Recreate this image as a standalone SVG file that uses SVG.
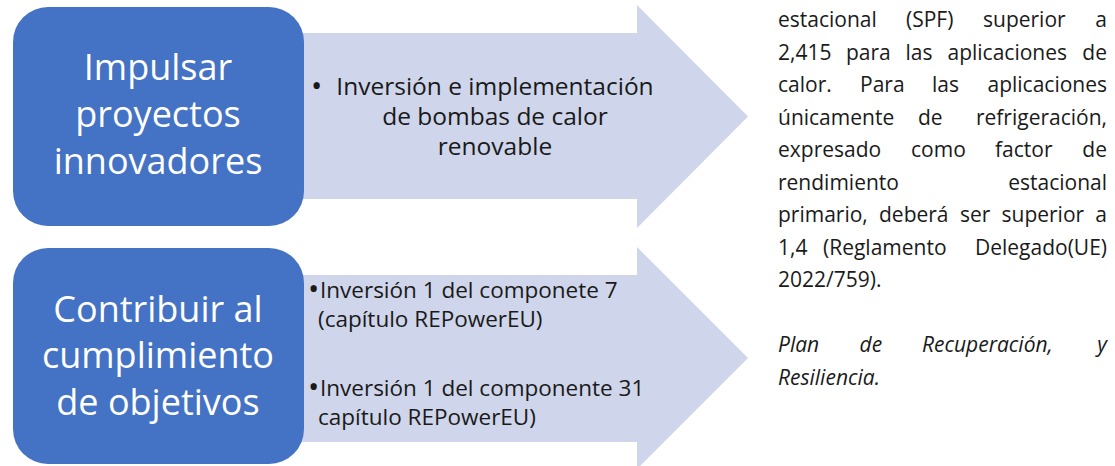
<svg xmlns="http://www.w3.org/2000/svg" width="1115" height="466" viewBox="0 0 1115 466">
<style>
.box{fill:#4472C4}
.arrow{fill:#CFD5EA}
.bt{font-family:"Open Sans","Noto Sans",sans-serif;font-size:36px;fill:#FFFFFF;text-anchor:middle}
.at{font-family:"Open Sans","Noto Sans",sans-serif;font-size:24.5px;fill:#1A1A1A}
.at2{font-family:"Open Sans","Noto Sans",sans-serif;font-size:22.5px;fill:#1A1A1A}
.bul{font-family:"Open Sans","Noto Sans",sans-serif;font-size:30px;fill:#1A1A1A}
.rt{font-family:"Open Sans","Noto Sans",sans-serif;font-size:21px;fill:#1A1A1A}
.e{text-anchor:end}
.i{font-style:italic}
</style>
<rect width="1115" height="466" fill="#FFFFFF"/>
<g id="arrow-1">
<polygon class="arrow" points="150,33 637,33 637,5 748,116.5 637,228 637,199 150,199"/>
<text class="bul" x="311" y="96">•</text>
<text class="at" x="495" y="95" text-anchor="middle">Inversión e implementación</text>
<text class="at" x="495" y="125" text-anchor="middle">de bombas de calor</text>
<text class="at" x="495" y="155" text-anchor="middle">renovable</text>
</g>
<g id="arrow-2">
<polygon class="arrow" points="150,275 637,275 637,247 748,358 637,469 637,442 150,442"/>
<text class="bul" x="308" y="299">•</text>
<text class="at2" x="320" y="298">Inversión 1 del componete 7</text>
<text class="at2" x="318" y="326.5">(capítulo REPowerEU)</text>
<text class="bul" x="308" y="397">•</text>
<text class="at2" x="320" y="396">Inversión 1 del componente 31</text>
<text class="at2" x="318" y="424.5">capítulo REPowerEU)</text>
</g>
<g id="connectors"></g>
<g id="node-impulsar">
<rect class="box" x="13" y="7" width="291" height="219" rx="35" ry="35"/>
<text class="bt" x="158" y="80">Impulsar</text>
<text class="bt" x="158" y="127">proyectos</text>
<text class="bt" x="158" y="174">innovadores</text>
</g>
<g id="node-contribuir">
<rect class="box" x="13" y="248" width="291" height="216" rx="35" ry="35"/>
<text class="bt" x="158" y="322">Contribuir al</text>
<text class="bt" x="158" y="368">cumplimiento</text>
<text class="bt" x="158" y="415">de objetivos</text>
</g>
<g id="node-texto">
<text class="rt" x="778" y="27">estacional</text>
<text class="rt" x="906" y="27">(SPF)</text>
<text class="rt" x="983" y="27">superior</text>
<text class="rt e" x="1107" y="27">a</text>
<text class="rt" x="778" y="59.5">2,415</text>
<text class="rt" x="846" y="59.5">para</text>
<text class="rt" x="905.5" y="59.5">las</text>
<text class="rt" x="947.5" y="59.5">aplicaciones</text>
<text class="rt e" x="1107" y="59.5">de</text>
<text class="rt" x="778" y="92">calor.</text>
<text class="rt" x="860" y="92">Para</text>
<text class="rt" x="932" y="92">las</text>
<text class="rt e" x="1107" y="92">aplicaciones</text>
<text class="rt" x="778" y="124.5">únicamente</text>
<text class="rt" x="918" y="124.5">de</text>
<text class="rt e" x="1107" y="124.5">refrigeración,</text>
<text class="rt" x="778" y="157">expresado</text>
<text class="rt" x="911" y="157">como</text>
<text class="rt" x="995" y="157">factor</text>
<text class="rt e" x="1107" y="157">de</text>
<text class="rt" x="778" y="189.5">rendimiento</text>
<text class="rt e" x="1107" y="189.5">estacional</text>
<text class="rt" x="778" y="222">primario,</text>
<text class="rt" x="879" y="222">deberá</text>
<text class="rt" x="960" y="222">ser</text>
<text class="rt" x="1001.5" y="222">superior</text>
<text class="rt e" x="1107" y="222">a</text>
<text class="rt" x="778" y="254.5">1,4</text>
<text class="rt" x="823" y="254.5">(Reglamento</text>
<text class="rt e" x="1107" y="254.5">Delegado(UE)</text>
<text class="rt" x="778" y="287">2022/759).</text>
<text class="rt i" x="778" y="352">Plan</text>
<text class="rt i" x="859.5" y="352">de</text>
<text class="rt i" x="922" y="352">Recuperación,</text>
<text class="rt i e" x="1107" y="352">y</text>
<text class="rt i" x="778" y="384.5">Resiliencia.</text>
</g>
</svg>
